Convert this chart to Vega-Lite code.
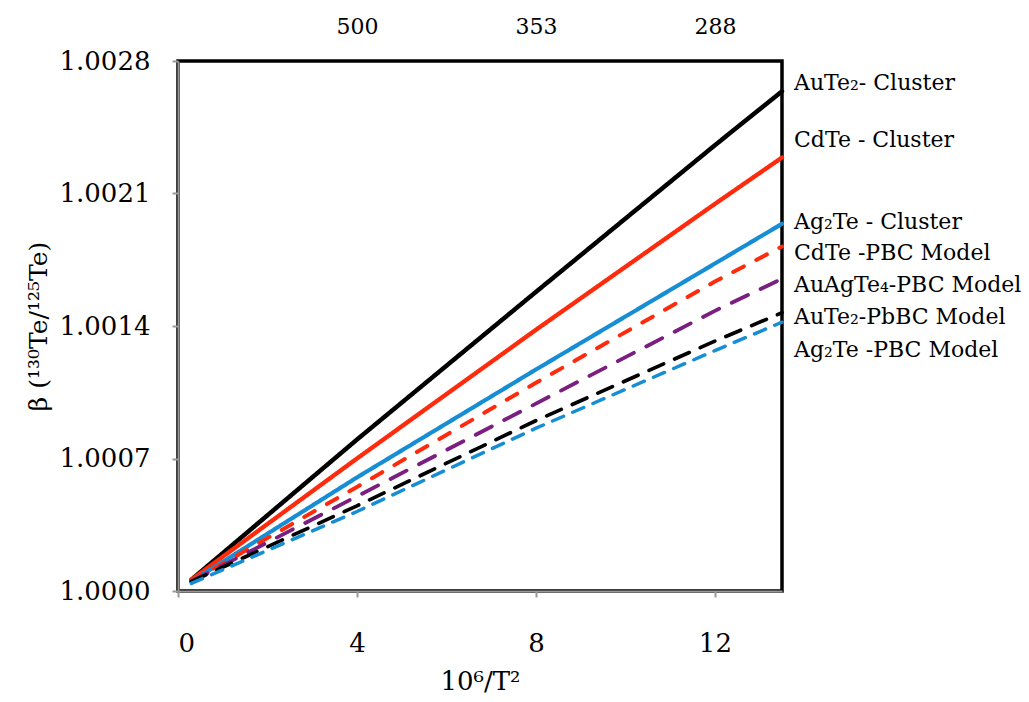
{
  "$schema": "https://vega.github.io/schema/vega-lite/v6.json",
  "width": 604,
  "height": 530,
  "autosize": {"type": "none"},
  "padding": {"left": 178, "top": 61, "right": 247, "bottom": 111},
  "background": "white",
  "config": {
    "font": "DejaVu Serif",
    "view": {"stroke": "black", "strokeWidth": 3.5},
    "axis": {"grid": false, "labelFont": "DejaVu Serif", "titleFont": "DejaVu Serif", "labelColor": "black", "titleColor": "black", "titleFontWeight": "normal"}
  },
  "datasets": {
    "lines": [
      {"series": "AuTe2-Cluster", "x": 0.3, "b": 1.00006},
      {"series": "AuTe2-Cluster", "x": 4, "b": 1.0008},
      {"series": "AuTe2-Cluster", "x": 8, "b": 1.00158},
      {"series": "AuTe2-Cluster", "x": 12, "b": 1.002355},
      {"series": "AuTe2-Cluster", "x": 13.5, "b": 1.00264},
      {"series": "CdTe-Cluster", "x": 0.3, "b": 1.00006},
      {"series": "CdTe-Cluster", "x": 4, "b": 1.0007},
      {"series": "CdTe-Cluster", "x": 8, "b": 1.00138},
      {"series": "CdTe-Cluster", "x": 12, "b": 1.002045},
      {"series": "CdTe-Cluster", "x": 13.5, "b": 1.00229},
      {"series": "Ag2Te-Cluster", "x": 0.3, "b": 1.00005},
      {"series": "Ag2Te-Cluster", "x": 4, "b": 1.0006},
      {"series": "Ag2Te-Cluster", "x": 8, "b": 1.00117},
      {"series": "Ag2Te-Cluster", "x": 11.5, "b": 1.00166},
      {"series": "Ag2Te-Cluster", "x": 13.5, "b": 1.00194},
      {"series": "CdTe-PBC", "x": 0.3, "b": 1.00005},
      {"series": "CdTe-PBC", "x": 4, "b": 1.00055},
      {"series": "CdTe-PBC", "x": 8, "b": 1.0011},
      {"series": "CdTe-PBC", "x": 12, "b": 1.001635},
      {"series": "CdTe-PBC", "x": 13.5, "b": 1.00182},
      {"series": "AuAgTe4-PBC", "x": 0.3, "b": 1.00005},
      {"series": "AuAgTe4-PBC", "x": 4, "b": 1.0005},
      {"series": "AuAgTe4-PBC", "x": 8, "b": 1.00099},
      {"series": "AuAgTe4-PBC", "x": 12, "b": 1.00148},
      {"series": "AuAgTe4-PBC", "x": 13.5, "b": 1.00165},
      {"series": "AuTe2-PbBC", "x": 0.3, "b": 1.00005},
      {"series": "AuTe2-PbBC", "x": 4, "b": 1.00045},
      {"series": "AuTe2-PbBC", "x": 8, "b": 1.0009},
      {"series": "AuTe2-PbBC", "x": 12, "b": 1.00132},
      {"series": "AuTe2-PbBC", "x": 13.5, "b": 1.00147},
      {"series": "Ag2Te-PBC", "x": 0.3, "b": 1.00004},
      {"series": "Ag2Te-PBC", "x": 4, "b": 1.00042},
      {"series": "Ag2Te-PBC", "x": 8, "b": 1.00086},
      {"series": "Ag2Te-PBC", "x": 12, "b": 1.00127},
      {"series": "Ag2Te-PBC", "x": 13.5, "b": 1.00142}
    ],
    "labels": [
      {"text": "AuTe₂- Cluster", "x": 13.5, "b": 1.002684},
      {"text": "CdTe - Cluster", "x": 13.5, "b": 1.002382},
      {"text": "Ag₂Te - Cluster", "x": 13.5, "b": 1.001949},
      {"text": "CdTe -PBC Model", "x": 13.5, "b": 1.001786},
      {"text": "AuAgTe₄-PBC Model", "x": 13.5, "b": 1.001616},
      {"text": "AuTe₂-PbBC Model", "x": 13.5, "b": 1.001447},
      {"text": "Ag₂Te -PBC Model", "x": 13.5, "b": 1.001273}
    ]
  },
  "layer": [
    {
      "data": {"name": "lines"},
      "mark": {"type": "line", "strokeCap": "round", "clip": false},
      "encoding": {
        "x": {
          "field": "x", "type": "quantitative",
          "scale": {"domain": [0, 13.5], "nice": false, "zero": false},
          "axis": {
            "values": [0, 4, 8, 12], "title": "10⁶/T²", "titleFontSize": 26, "titlePadding": 12,
            "labelFontSize": 26, "labelPadding": 33, "tickSize": 6, "tickColor": "#999999", "tickWidth": 2,
            "domainColor": "#999999", "domainWidth": 2
          }
        },
        "y": {
          "field": "b", "type": "quantitative",
          "scale": {"domain": [1.0, 1.0028], "nice": false, "zero": false},
          "axis": {
            "values": [1.0, 1.0007, 1.0014, 1.0021, 1.0028], "format": ".4f",
            "title": "β (¹³⁰Te/¹²⁵Te)", "titleFontSize": 25, "titlePadding": 8,
            "labelFontSize": 26, "labelPadding": 22, "tickSize": 6, "tickColor": "#999999", "tickWidth": 2,
            "domainColor": "#999999", "domainWidth": 2
          }
        },
        "color": {
          "field": "series", "type": "nominal", "legend": null,
          "scale": {
            "domain": ["AuTe2-Cluster", "CdTe-Cluster", "Ag2Te-Cluster", "CdTe-PBC", "AuAgTe4-PBC", "AuTe2-PbBC", "Ag2Te-PBC"],
            "range": ["#000000", "#ff2b0c", "#178ed4", "#ff2b0c", "#7a1e80", "#000000", "#178ed4"]
          }
        },
        "strokeDash": {
          "field": "series", "type": "nominal", "legend": null,
          "scale": {
            "domain": ["AuTe2-Cluster", "CdTe-Cluster", "Ag2Te-Cluster", "CdTe-PBC", "AuAgTe4-PBC", "AuTe2-PbBC", "Ag2Te-PBC"],
            "range": [[1, 0], [1, 0], [1, 0], [12, 14], [18, 14], [16, 12], [12, 10]]
          }
        },
        "strokeWidth": {
          "field": "series", "type": "nominal", "legend": null,
          "scale": {
            "domain": ["AuTe2-Cluster", "CdTe-Cluster", "Ag2Te-Cluster", "CdTe-PBC", "AuAgTe4-PBC", "AuTe2-PbBC", "Ag2Te-PBC"],
            "range": [4.5, 3.5, 3.5, 3.5, 5.5, 5, 3.5]
          }
        }
      }
    },
    {
      "data": {"name": "labels"},
      "mark": {"type": "text", "align": "left", "baseline": "middle", "dx": 12, "font": "DejaVu Serif", "fontSize": 22, "color": "black", "clip": false},
      "encoding": {
        "x": {"field": "x", "type": "quantitative", "axis": null},
        "y": {"field": "b", "type": "quantitative"},
        "text": {"field": "text"}
      }
    },
    {
      "data": {"values": [{"x": 4}]},
      "mark": {"type": "point", "opacity": 0},
      "encoding": {
        "x": {
          "field": "x", "type": "quantitative",
          "axis": {
            "orient": "top", "values": [4, 8, 12], "title": null,
            "labelExpr": "datum.value == 4 ? '500' : datum.value == 8 ? '353' : '288'",
            "labelFontSize": 22, "labelPadding": 23, "ticks": false, "domain": false
          }
        }
      }
    }
  ],
  "resolve": {"axis": {"x": "independent"}}
}
